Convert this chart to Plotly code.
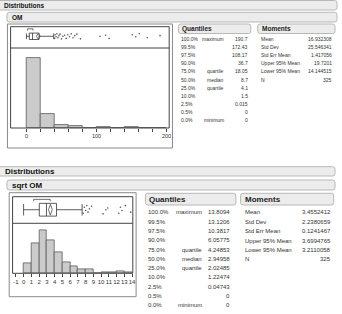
import plotly.graph_objects as go
import numpy as np

# ---------------- data ----------------
om_bin_edges = [0, 20, 40, 60, 80, 100, 120, 140, 160, 180, 200]
om_counts = [250, 50, 11, 7, 0, 2, 1, 2, 1, 1]
om_quant = dict(minimum=0, q1=4.1, median=8.7, q3=18.05, upper_whisker=38.9)
om_mean, om_lo95, om_hi95 = 16.932308, 14.144515, 19.7201
om_shortest_half = [1.4, 9.3]
om_outliers = [40.2, 41, 42.3, 43.5, 45, 46.4, 48, 50, 52, 54.5, 56.8, 59, 61.5,
               64, 66.5, 69, 72, 77, 105, 113, 118, 151, 156, 161, 172.43, 190.7]
om_axis_ticks = [0, 100, 200]

sq_bin_edges = list(range(0, 15))
sq_counts = [20, 58, 84, 64, 40, 22, 13, 8, 8, 0, 2, 1, 3, 2]
sq_quant = dict(minimum=0, q1=2.02485, median=2.94958, q3=4.24853, upper_whisker=7.55)
sq_mean, sq_lo95, sq_hi95 = 3.4552412, 3.2110058, 3.6994765
sq_shortest_half = [1.3, 3.44]
sq_outliers = [7.68, 7.84, 8.0, 8.15, 8.31, 8.49, 8.77, 10.25, 10.63, 10.86,
               12.29, 12.49, 12.69, 13.13, 13.81]
sq_axis_ticks = list(range(-1, 15))

q_pct = ["100.0%", "99.5%", "97.5%", "90.0%", "75.0%", "50.0%", "25.0%", "10.0%", "2.5%", "0.5%", "0.0%"]
q_lab = ["maximum", "", "", "", "quartile", "median", "quartile", "", "", "", "minimum"]
om_qvals = ["190.7", "172.43", "108.17", "36.7", "18.05", "8.7", "4.1", "1.5", "0.015", "0", "0"]
sq_qvals = ["13.8094", "13.1206", "10.3817", "6.05775", "4.24853", "2.94958", "2.02485",
            "1.22474", "0.04743", "0", "0"]
m_lab = ["Mean", "Std Dev", "Std Err Mean", "Upper 95% Mean", "Lower 95% Mean", "N"]
om_mvals = ["16.932308", "25.546341", "1.417056", "19.7201", "14.144515", "325"]
sq_mvals = ["3.4552412", "2.2380659", "0.1241467", "3.6994765", "3.2110058", "325"]

# ---------------- helpers ----------------
W, H = 342, 314
def X(px): return px / W
def Y(py): return 1 - py / H

FONT = "Liberation Sans, Arial, sans-serif"
shapes, annotations = [], []

def rect(x0, y0, x1, y1, line="#888", width=1, fill=None):
    shapes.append(dict(type="rect", xref="paper", yref="paper",
                       x0=X(x0), x1=X(x1), y0=Y(y1), y1=Y(y0),
                       line=dict(color=line, width=width),
                       fillcolor=fill if fill else "rgba(0,0,0,0)", layer="above" if not fill else "below"))

def rrect(x0, y0, x1, y1, r=2.5, fill="#ececec", line="#b8b8b8"):
    p = (f"M {X(x0+r)},{Y(y0)} L {X(x1-r)},{Y(y0)} Q {X(x1)},{Y(y0)} {X(x1)},{Y(y0+r)} "
         f"L {X(x1)},{Y(y1-r)} Q {X(x1)},{Y(y1)} {X(x1-r)},{Y(y1)} "
         f"L {X(x0+r)},{Y(y1)} Q {X(x0)},{Y(y1)} {X(x0)},{Y(y1-r)} "
         f"L {X(x0)},{Y(y0+r)} Q {X(x0)},{Y(y0)} {X(x0+r)},{Y(y0)} Z")
    shapes.append(dict(type="path", xref="paper", yref="paper", path=p,
                       fillcolor=fill, line=dict(color=line, width=1), layer="below"))

def text(px, py, s, size=5.5, anchor="left", bold=False, color="#333"):
    annotations.append(dict(xref="paper", yref="paper", x=X(px), y=Y(py), text=f"<b>{s}</b>" if bold else s,
                            showarrow=False, xanchor=anchor, yanchor="middle",
                            font=dict(family=FONT, size=size, color=color)))

fig = go.Figure()

def add_panel(n_hist, n_box, edges, counts, quant, mean, lo95, hi95, sh, outl,
              box_c, box_w, br_y, br_d, jitter):
    xa_h, ya_h = ("x" if n_hist == 1 else f"x{n_hist}"), ("y" if n_hist == 1 else f"y{n_hist}")
    xa_b, ya_b = f"x{n_box}", f"y{n_box}"
    centers = [(edges[i] + edges[i + 1]) / 2 for i in range(len(counts))]
    widths = [edges[i + 1] - edges[i] for i in range(len(counts))]
    fig.add_trace(go.Bar(x=centers, y=counts, width=widths, xaxis=xa_h, yaxis=ya_h,
                         marker=dict(color="#cbcbcb", line=dict(color="#5a5a5a", width=0.8)),
                         showlegend=False, hoverinfo="skip"))
    fig.add_trace(go.Box(orientation="h", y=[box_c], q1=[quant["q1"]], median=[quant["median"]],
                         q3=[quant["q3"]], lowerfence=[quant["minimum"]], upperfence=[quant["upper_whisker"]],
                         width=box_w, whiskerwidth=0.9, fillcolor="white",
                         line=dict(color="#333", width=0.8), boxpoints=False,
                         xaxis=xa_b, yaxis=ya_b, showlegend=False, hoverinfo="skip"))
    h = box_w / 2 * 0.85
    fig.add_trace(go.Scatter(x=[lo95, mean, hi95, mean, lo95], y=[box_c, box_c + h, box_c, box_c - h, box_c],
                             mode="lines", line=dict(color="#333", width=0.7),
                             xaxis=xa_b, yaxis=ya_b, showlegend=False, hoverinfo="skip"))
    fig.add_trace(go.Scatter(x=[sh[0], sh[0], sh[1], sh[1]], y=[br_y - br_d, br_y, br_y, br_y - br_d],
                             mode="lines", line=dict(color="#333", width=0.7),
                             xaxis=xa_b, yaxis=ya_b, showlegend=False, hoverinfo="skip"))
    ys = [box_c + jitter[i % len(jitter)] for i in range(len(outl))]
    fig.add_trace(go.Scatter(x=outl, y=ys, mode="markers", marker=dict(size=1.6, color="#555"),
                             xaxis=xa_b, yaxis=ya_b, showlegend=False, hoverinfo="skip"))

jit = [-0.1, 0.07, -0.02, 0.12, -0.07, 0.03, 0.1, -0.12, 0.0, 0.05]
add_panel(1, 2, om_bin_edges, om_counts, om_quant, om_mean, om_lo95, om_hi95, om_shortest_half,
          om_outliers, 0.55, 0.3, 0.9, 0.08, jit)
add_panel(3, 4, sq_bin_edges, sq_counts, sq_quant, sq_mean, sq_lo95, sq_hi95, sq_shortest_half,
          sq_outliers, 0.51, 0.48, 0.9, 0.07, [v * 1.3 for v in jit])

# axes
om_minor = list(range(0, 201, 20))
sq_labels = [str(v) for v in sq_axis_ticks]
common_x = dict(showgrid=False, zeroline=False, showline=False, ticks="outside", ticklen=2.5,
                tickcolor="#444", tickwidth=0.8, tickangle=0)
layout_axes = dict(
    xaxis=dict(domain=[X(10.7), X(170.7)], range=[-22.6, 203.8], anchor="y",
               tickvals=om_minor, ticktext=[str(v) if v in om_axis_ticks else "" for v in om_minor],
               tickfont=dict(family=FONT, size=5.5, color="#333"), **common_x),
    yaxis=dict(domain=[Y(128), Y(48)], range=[0, 285.7], visible=False, anchor="x"),
    xaxis2=dict(domain=[X(10.7), X(170.7)], range=[-22.6, 203.8], visible=False, anchor="y2"),
    yaxis2=dict(domain=[Y(48), Y(26.7)], range=[0, 1], visible=False, anchor="x2"),
    xaxis3=dict(domain=[X(12.7), X(134)], range=[-1.42, 14.09], anchor="y3",
                tickvals=sq_axis_ticks, ticktext=sq_labels,
                tickfont=dict(family=FONT, size=6, color="#333"), **common_x),
    yaxis3=dict(domain=[Y(273.3), Y(223.3)], range=[0, 97], visible=False, anchor="x3"),
    xaxis4=dict(domain=[X(12.7), X(134)], range=[-1.42, 14.09], visible=False, anchor="y4"),
    yaxis4=dict(domain=[Y(223.3), Y(196.7)], range=[0, 1], visible=False, anchor="x4"),
)

# ---- header bars ----
rrect(-3, 0.5, 340, 10)
text(2, 5.3, "Distributions", size=6.5, bold=True, color="#111")
rrect(7, 12.3, 340, 22)
text(10, 17.2, "OM", size=6.5, bold=True, color="#111")
rrect(-3, 166.7, 338, 176)
text(3, 171.5, "Distributions", size=8, bold=True, color="#111")
rrect(7, 180, 338, 190)
text(10, 185, "sqrt OM", size=8, bold=True, color="#111")

# ---- frames ----
rect(7.5, 24, 174, 148, line="#8a8a8a")
rect(10.7, 26.7, 170.7, 128, line="#444")
shapes.append(dict(type="line", xref="paper", yref="paper", x0=X(10.7), x1=X(170.7), y0=Y(48), y1=Y(48),
                   line=dict(color="#444", width=1)))
rect(9.3, 192.7, 137.3, 296.7, line="#8a8a8a")
rect(12.7, 196.7, 134, 273.3, line="#444")
shapes.append(dict(type="line", xref="paper", yref="paper", x0=X(12.7), x1=X(134), y0=Y(223.3), y1=Y(223.3),
                   line=dict(color="#444", width=1)))

# ---- tables top ----
rrect(180, 24, 253, 33.5)
text(182, 28.8, "Quantiles", size=6.5, bold=True, color="#222")
rrect(260, 24, 338, 33.5)
text(262, 28.8, "Moments", size=6.5, bold=True, color="#222")
for i in range(len(q_pct)):
    y = 39.3 + i * 8.04
    text(181, y, q_pct[i], size=5)
    if q_lab[i]:
        text(228, y, q_lab[i], size=5, anchor="right")
    text(252.7, y, om_qvals[i], size=5, anchor="right")
for i in range(len(m_lab)):
    y = 39.3 + i * 8.04
    text(261.7, y, m_lab[i], size=5)
    text(336.7, y, om_mvals[i], size=5, anchor="right")

# ---- tables bottom ----
rrect(146.7, 193.3, 238, 205)
text(148, 199.3, "Quantiles", size=8, bold=True, color="#222")
rrect(242.7, 193.3, 336.7, 205)
text(245, 199.3, "Moments", size=8, bold=True, color="#222")
for i in range(len(q_pct)):
    y = 212.3 + i * 9.3
    text(147.5, y, q_pct[i], size=6)
    if q_lab[i]:
        text(206, y, q_lab[i], size=6, anchor="right")
    text(234, y, sq_qvals[i], size=6, anchor="right")
for i in range(len(m_lab)):
    y = 212.3 + i * 9.4
    text(245, y, m_lab[i], size=6)
    text(336, y, sq_mvals[i], size=6, anchor="right")

fig.update_layout(width=W, height=H, margin=dict(l=0, r=0, t=0, b=0),
                  paper_bgcolor="white", plot_bgcolor="white", bargap=0,
                  shapes=shapes, annotations=annotations, **layout_axes)
fig.write_html("out.html")
